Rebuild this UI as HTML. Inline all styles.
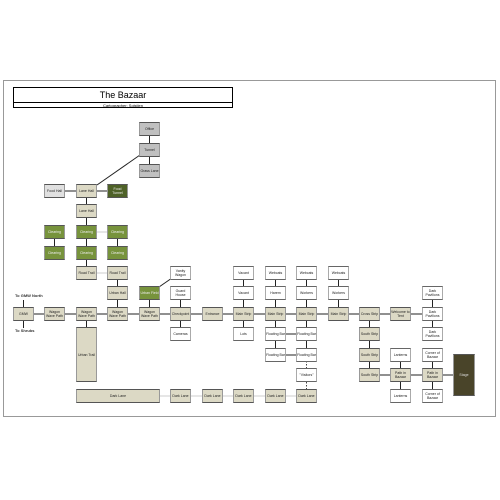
<!DOCTYPE html>
<html><head><meta charset="utf-8"><style>
body{margin:0;width:500px;height:500px;background:#fff;position:relative;overflow:hidden;font-family:"Liberation Sans",sans-serif}
.f{position:absolute;left:3px;top:80px;width:491px;height:335px;border:1px solid #999}
.b{position:absolute;width:21px;height:14px;box-sizing:border-box;border:1px solid #999;border-top:1px solid #555;border-bottom:1.5px solid #555;background:#dcd9c5;font-size:3.5px;line-height:4px;display:flex;align-items:center;justify-content:center;text-align:center;color:#222;overflow:hidden}
.w{background:#fff;border-color:#aaa;border-top-color:#666;border-bottom-color:#666}
.g{background:#77933c;color:#eee}
.d{background:#4f6228;color:#eee}
.s{background:#c0c0c0}
.l{background:#e0e0e0}
.t{position:absolute;font-size:4px;font-weight:bold;color:#333}
</style></head><body>
<div class="f"></div>
<div style="position:absolute;left:13px;top:87px;width:220px;height:21px;border:1px solid #000;box-sizing:border-box">
<div style="height:14px;border-bottom:1px solid #000;text-align:center;font-size:9px;line-height:14px">The Bazaar</div>
<div style="text-align:center;font-size:4px;line-height:6px">Cartographer: Solstien</div></div>
<svg width="500" height="500" style="position:absolute;left:0;top:0">
<g stroke="#222" stroke-width="1">
<line x1="149.5" y1="129" x2="149.5" y2="171"/>
<line x1="54.5" y1="191" x2="117.5" y2="191"/>
<line x1="97" y1="185" x2="140" y2="155"/>
<line x1="86.5" y1="191" x2="86.5" y2="273"/>
<line x1="54.5" y1="232" x2="54.5" y2="253"/>
<line x1="117.5" y1="232" x2="117.5" y2="253"/>
<line x1="117.5" y1="273" x2="117.5" y2="314"/>
<line x1="149.5" y1="293" x2="149.5" y2="314"/>
<line x1="159" y1="287" x2="172" y2="278"/>
<line x1="23.5" y1="314" x2="432.5" y2="314"/>
<line x1="23.5" y1="300" x2="23.5" y2="314"/>
<line x1="23.5" y1="314" x2="23.5" y2="328"/>
<line x1="86.5" y1="314" x2="86.5" y2="330"/>
<line x1="180.5" y1="293" x2="180.5" y2="334"/>
<line x1="243.5" y1="273" x2="243.5" y2="334"/>
<line x1="275.5" y1="273" x2="275.5" y2="355"/>
<line x1="306.5" y1="273" x2="306.5" y2="355"/>
<line x1="275.5" y1="334" x2="306.5" y2="334"/>
<line x1="275.5" y1="355" x2="306.5" y2="355"/>
<line x1="338.5" y1="273" x2="338.5" y2="314"/>
<line x1="369.5" y1="314" x2="369.5" y2="375"/>
<line x1="369.5" y1="375" x2="463.5" y2="375"/>
<line x1="400.5" y1="355" x2="400.5" y2="396"/>
<line x1="432.5" y1="293" x2="432.5" y2="334"/>
<line x1="432.5" y1="355" x2="432.5" y2="396"/>
</g>
<g stroke="#ccc" stroke-width="1">
<line x1="86.5" y1="273" x2="117.5" y2="273"/>
<line x1="86.5" y1="232" x2="117.5" y2="232"/>
<line x1="150" y1="396" x2="306.5" y2="396"/>
</g>
<g stroke="#444" stroke-dasharray="1.5,1.5"><line x1="306.5" y1="355" x2="306.5" y2="396"/></g>
</svg>
<div class="t" style="left:15px;top:293px">To GMW North</div>
<div class="t" style="left:15px;top:328px">To Shrubs</div>
<div class="b s" style="left:139px;top:122px">Office</div>
<div class="b s" style="left:139px;top:143px">Tunnel</div>
<div class="b s" style="left:139px;top:164px">Grass Lane</div>
<div class="b l" style="left:44px;top:184px">Food Hall</div>
<div class="b" style="left:76px;top:184px">Lane Hall</div>
<div class="b d" style="left:107px;top:184px">Food Tunnel</div>
<div class="b" style="left:76px;top:204px">Lane Hall</div>
<div class="b g" style="left:44px;top:225px">Clearing</div>
<div class="b g" style="left:76px;top:225px">Clearing</div>
<div class="b g" style="left:107px;top:225px">Clearing</div>
<div class="b g" style="left:44px;top:246px">Clearing</div>
<div class="b g" style="left:76px;top:246px">Clearing</div>
<div class="b g" style="left:107px;top:246px">Clearing</div>
<div class="b" style="left:76px;top:266px">Road Trail</div>
<div class="b" style="left:107px;top:266px">Road Trail</div>
<div class="b w" style="left:170px;top:266px">Vanity Wagon</div>
<div class="b w" style="left:233px;top:266px">Vacant</div>
<div class="b w" style="left:265px;top:266px">Webcats</div>
<div class="b w" style="left:296px;top:266px">Webcats</div>
<div class="b w" style="left:328px;top:266px">Webcats</div>
<div class="b" style="left:107px;top:286px">Urban Hall</div>
<div class="b g" style="left:139px;top:286px">Urban Field</div>
<div class="b w" style="left:170px;top:286px">Guard House</div>
<div class="b w" style="left:233px;top:286px">Vacant</div>
<div class="b w" style="left:265px;top:286px">Harem</div>
<div class="b w" style="left:296px;top:286px">Workers</div>
<div class="b w" style="left:328px;top:286px">Workers</div>
<div class="b w" style="left:422px;top:286px">Dark Pavilions</div>
<div class="b" style="left:13px;top:307px">GMW</div>
<div class="b" style="left:44px;top:307px">Wagon Wave Path</div>
<div class="b" style="left:76px;top:307px">Wagon Wave Path</div>
<div class="b" style="left:107px;top:307px">Wagon Wave Path</div>
<div class="b" style="left:139px;top:307px">Wagon Wave Path</div>
<div class="b" style="left:170px;top:307px">Checkpoint</div>
<div class="b" style="left:202px;top:307px">Entrance</div>
<div class="b" style="left:233px;top:307px">Main Strip</div>
<div class="b" style="left:265px;top:307px">Main Strip</div>
<div class="b" style="left:296px;top:307px">Main Strip</div>
<div class="b" style="left:328px;top:307px">Main Strip</div>
<div class="b" style="left:359px;top:307px">Cross Strip</div>
<div class="b" style="left:390px;top:307px">Welcome to Tent</div>
<div class="b w" style="left:422px;top:307px">Dark Pavilions</div>
<div class="b" style="left:76px;top:327px;height:55px">Urban Trail</div>
<div class="b w" style="left:170px;top:327px">Cameras</div>
<div class="b w" style="left:233px;top:327px">Lots</div>
<div class="b w" style="left:265px;top:327px">Floating Bar</div>
<div class="b w" style="left:296px;top:327px">Floating Bar</div>
<div class="b" style="left:359px;top:327px">South Strip</div>
<div class="b w" style="left:422px;top:327px">Dark Pavilions</div>
<div class="b w" style="left:265px;top:348px">Floating Bar</div>
<div class="b w" style="left:296px;top:348px">Floating Bar</div>
<div class="b" style="left:359px;top:348px">South Strip</div>
<div class="b w" style="left:390px;top:348px">Lanterns</div>
<div class="b w" style="left:422px;top:348px">Corner of Bazaar</div>
<div class="b w" style="left:296px;top:368px">"Visitors"</div>
<div class="b" style="left:359px;top:368px">South Strip</div>
<div class="b" style="left:390px;top:368px">Path in Bazaar</div>
<div class="b" style="left:422px;top:368px">Path in Bazaar</div>
<div class="b" style="left:453px;top:354px;width:22px;height:42px;background:#494429;color:#ddd">Stage</div>
<div class="b" style="left:76px;top:389px;width:84px">Dark Lane</div>
<div class="b" style="left:170px;top:389px">Dark Lane</div>
<div class="b" style="left:202px;top:389px">Dark Lane</div>
<div class="b" style="left:233px;top:389px">Dark Lane</div>
<div class="b" style="left:265px;top:389px">Dark Lane</div>
<div class="b" style="left:296px;top:389px">Dark Lane</div>
<div class="b w" style="left:390px;top:389px">Lanterns</div>
<div class="b w" style="left:422px;top:389px">Corner of Bazaar</div>
</body></html>
